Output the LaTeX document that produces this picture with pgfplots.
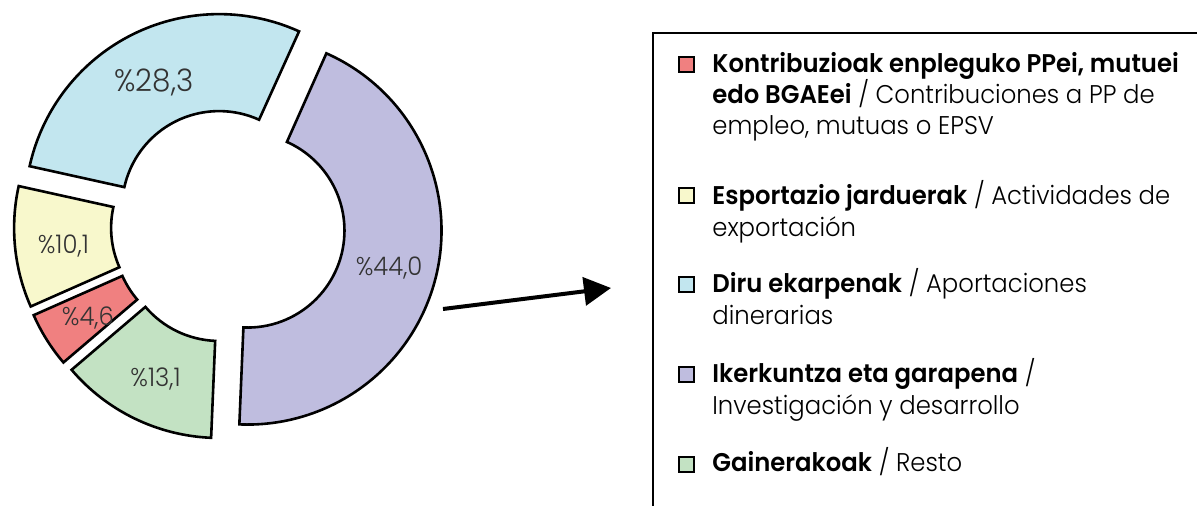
\documentclass[border=0pt]{standalone}
\usepackage{fontspec}
\setmainfont{Poppins}[UprightFont=* Light, FakeStretch=0.95]
\usepackage{pgfplots}
\pgfplotsset{compat=1.18}
\usepackage{pgfplotstable}
\usetikzlibrary{calc, arrows.meta}

\definecolor{cw0}{HTML}{BFBDDF}
\definecolor{cw1}{HTML}{C3E2C3}
\definecolor{cw2}{HTML}{F08080}
\definecolor{cw3}{HTML}{F8F8CC}
\definecolor{cw4}{HTML}{C2E6EF}

% shares in %, clockwise from the purple slice
\pgfplotstableread{
share lsize
44.0  12.8
13.1  12.8
4.6   12.8
10.1  12.8
28.3  15.5
}\sharetable

% start/end/mid angle of every slice
\def\cur{66}
\pgfplotsforeachungrouped \i in {0,...,4}{%
  \pgfplotstablegetelem{\i}{share}\of\sharetable
  \let\v\pgfplotsretval
  \pgfplotstablegetelem{\i}{lsize}\of\sharetable
  \let\ls\pgfplotsretval
  \pgfmathsetmacro\nxt{\cur-3.6*\v}%
  \pgfmathsetmacro\md{(\cur+\nxt)/2}%
  \expandafter\xdef\csname sa\i\endcsname{\cur}%
  \expandafter\xdef\csname ea\i\endcsname{\nxt}%
  \expandafter\xdef\csname md\i\endcsname{\md}%
  \expandafter\xdef\csname vl\i\endcsname{\v}%
  \expandafter\xdef\csname ls\i\endcsname{\ls}%
  \xdef\cur{\nxt}%
}

\newcommand\lgfont{\fontsize{12.8}{15}\selectfont}

\begin{document}
\begin{tikzpicture}
\begin{axis}[
  x=0.5pt, y=0.5pt, y dir=reverse,
  xmin=0, xmax=1197, ymin=0, ymax=506,
  hide axis, scale only axis, clip=false,
]
\coordinate (bbA) at (axis cs:0,506);
\coordinate (bbB) at (axis cs:1197,0);

\pgfplotsinvokeforeach{0,...,4}{
  \filldraw[fill=cw#1, draw=black, line width=1.3pt]
    ($(axis cs:228,226)+(\csname md#1\endcsname:10pt)+(\csname sa#1\endcsname:97pt)$)
    arc[start angle=\csname sa#1\endcsname, end angle=\csname ea#1\endcsname, radius=97pt]
    -- ++(\csname ea#1\endcsname:-48.5pt)
    arc[start angle=\csname ea#1\endcsname, end angle=\csname sa#1\endcsname, radius=48.5pt]
    -- cycle;
  \node[text=black!80, text depth=0pt, font=\fontsize{\csname ls#1\endcsname}{16}\selectfont]
    at ($(axis cs:228,228)+(\csname md#1\endcsname:82.75pt)$)
    {\%\pgfmathprintnumber[fixed, fixed zerofill, precision=1, use comma, assume math mode=true]{\csname vl#1\endcsname}};
}

% arrow towards the legend
\draw[line width=2pt, -{Triangle[length=13.5pt, width=14pt]}]
  (axis cs:443,309) -- (axis cs:611,288);

% legend frame
\draw[line width=1pt] (axis cs:653,520) -- (axis cs:653,33) -- (axis cs:1210,33);

% legend squares
\filldraw[fill=cw2, line width=0.9pt] (axis cs:679,57) rectangle (axis cs:694,72);
\filldraw[fill=cw3, line width=0.9pt] (axis cs:679,188) rectangle (axis cs:694,203);
\filldraw[fill=cw4, line width=0.9pt] (axis cs:679,277) rectangle (axis cs:694,292);
\filldraw[fill=cw0, line width=0.9pt] (axis cs:679,367) rectangle (axis cs:694,382);
\filldraw[fill=cw1, line width=0.9pt] (axis cs:679,457) rectangle (axis cs:694,472);

% legend text
\begin{scope}[every node/.style={anchor=base west, inner sep=0pt, font=\lgfont}]
\node at (axis cs:712,73) {\textbf{Kontribuzioak enpleguko PPei, mutuei}};
\node at (axis cs:712,104) {\textbf{edo BGAEei} / Contribuciones a PP de};
\node at (axis cs:712,135) {empleo, mutuas o EPSV};
\node at (axis cs:712,205) {\textbf{Esportazio jarduerak} / Actividades de};
\node at (axis cs:712,237) {exportación};
\node at (axis cs:712,293) {\textbf{Diru ekarpenak} / Aportaciones};
\node at (axis cs:712,325) {dinerarias};
\node at (axis cs:712,383) {\textbf{Ikerkuntza eta garapena} /};
\node at (axis cs:712,415) {Investigación y desarrollo};
\node at (axis cs:712,472) {\textbf{Gainerakoak} / Resto};
\end{scope}
\end{axis}
\pgfresetboundingbox
\path[use as bounding box] (bbA) rectangle (bbB);
\end{tikzpicture}
\end{document}
